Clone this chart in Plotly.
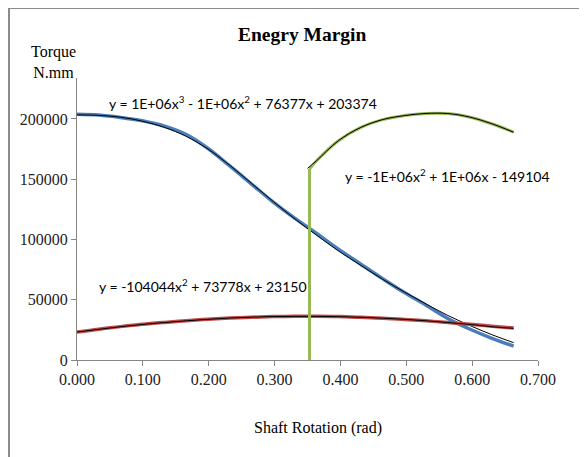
import plotly.graph_objects as go

# ---- data ----
x_pts = [0.000, 0.033, 0.066, 0.099, 0.133, 0.166, 0.199, 0.232, 0.265, 0.298,
         0.331, 0.364, 0.397, 0.431, 0.464, 0.497, 0.530, 0.563, 0.597, 0.630, 0.663]
blue_torque = [204000, 203300, 201300, 198500, 194000, 187000, 175500, 161000, 146000, 131000,
               117500, 105000, 92000, 79500, 67500, 56000, 45500, 34500, 25500, 18000, 11500]
blue_trend = [203400, 203000, 201500, 198200, 193000, 185500, 175000, 161500, 146500, 131500,
              117000, 103500, 90500, 78500, 67000, 56500, 46500, 37000, 28500, 21000, 14400]
red_torque = [23200, 25600, 27700, 29600, 31200, 32600, 33800, 34800, 35500, 36000,
              36200, 36200, 36000, 35400, 34700, 33700, 32500, 31100, 29600, 28100, 26600]
red_trend = [23150, 25450, 27600, 29450, 31100, 32550, 33750, 34800, 35550, 36050,
             36200, 36200, 35950, 35450, 34700, 33750, 32550, 31100, 29500, 27600, 26300]

green_x = [0.353, 0.353, 0.364, 0.397, 0.431, 0.464, 0.497, 0.530, 0.563, 0.597, 0.630, 0.663]
green_torque = [0, 158500, 165500, 182000, 193000, 199500, 202800, 204600, 204500, 201500, 196000, 189000]
green_trend_x = [0.350, 0.364, 0.397, 0.431, 0.464, 0.497, 0.530, 0.563, 0.597, 0.630, 0.663]
green_trend = [159000, 165500, 182000, 193000, 199500, 202800, 204600, 204500, 201500, 196000, 189000]

x_ticks = [0.0, 0.1, 0.2, 0.3, 0.4, 0.5, 0.6, 0.7]
y_ticks = [0, 50000, 100000, 150000, 200000]

eq_blue = "y = 1E+06x<sup>3</sup> - 1E+06x<sup>2</sup> + 76377x + 203374"
eq_green = "y = -1E+06x<sup>2</sup> + 1E+06x - 149104"
eq_red = "y = -104044x<sup>2</sup> + 73778x + 23150"

BLUE = "#4a7ebb"
RED = "#be4b48"
GREEN = "#98b954"
SERIF = "Liberation Serif"
SANS = "Lato"

fig = go.Figure()
fig.add_trace(go.Scatter(x=x_pts, y=blue_torque, mode="lines",
                         line=dict(color=BLUE, width=3.5, shape="spline")))
fig.add_trace(go.Scatter(x=x_pts, y=blue_trend, mode="lines",
                         line=dict(color="black", width=1, shape="spline")))
fig.add_trace(go.Scatter(x=x_pts, y=red_torque, mode="lines",
                         line=dict(color=RED, width=3.5, shape="spline")))
fig.add_trace(go.Scatter(x=x_pts, y=red_trend, mode="lines",
                         line=dict(color="black", width=1, shape="spline")))
# green series: vertical rise, then the curve
fig.add_trace(go.Scatter(x=green_x[:2], y=green_torque[:2], mode="lines",
                         line=dict(color=GREEN, width=3, shape="linear")))
fig.add_trace(go.Scatter(x=green_x[1:], y=green_torque[1:], mode="lines",
                         line=dict(color=GREEN, width=3, shape="spline")))
fig.add_trace(go.Scatter(x=green_trend_x, y=green_trend, mode="lines",
                         line=dict(color="black", width=1, shape="spline")))

axis_common = dict(showline=True, linecolor="#868686", linewidth=1, ticks="outside",
                   ticklen=5, tickcolor="#868686", showgrid=False, zeroline=False,
                   tickfont=dict(family=SERIF, size=16, color="#222222"))

fig.update_xaxes(range=[0, 0.7], tickvals=x_ticks, tickformat=".3f", **axis_common)
fig.update_yaxes(range=[0, 234000], tickvals=y_ticks, tickformat="d", **axis_common)

# page has an 8px body margin; figure coords = page coords - 8
PW = 461.0
PH = 282.0
L, T = 69, 70


def px(xp):
    return (xp - 8 - L) / PW


def py(yp):
    return (T + PH - (yp - 8)) / PH


annots = [
    dict(x=px(302), y=py(35), text="<b>Enegry Margin</b>", font=dict(family=SERIF, size=19.5, color="black"),
         xanchor="center", yanchor="middle"),
    dict(x=px(53), y=py(62), text="Torque<br>N.mm", font=dict(family=SERIF, size=16, color="black"),
         xanchor="center", yanchor="middle"),
    dict(x=px(318), y=py(428), text="Shaft Rotation (rad)", font=dict(family=SERIF, size=16, color="black"),
         xanchor="center", yanchor="middle"),
    dict(x=px(107), y=py(102), text=eq_blue, font=dict(family=SANS, size=14, color="black"),
         xanchor="left", yanchor="middle"),
    dict(x=px(343), y=py(175), text=eq_green, font=dict(family=SANS, size=14, color="black"),
         xanchor="left", yanchor="middle"),
    dict(x=px(97), y=py(285), text=eq_red, font=dict(family=SANS, size=14, color="black"),
         xanchor="left", yanchor="middle"),
]
for a in annots:
    a.update(xref="paper", yref="paper", showarrow=False)

fig.update_layout(
    width=579, height=449,
    margin=dict(l=L, r=49, t=T, b=97),
    paper_bgcolor="white", plot_bgcolor="white",
    showlegend=False,
    annotations=annots,
    shapes=[
        dict(type="line", xref="paper", yref="paper", x0=px(9), x1=px(9), y0=py(8), y1=py(470),
             line=dict(color="#8c8c8c", width=2)),
        dict(type="line", xref="paper", yref="paper", x0=px(9), x1=px(600), y0=py(8), y1=py(8),
             line=dict(color="#8c8c8c", width=2)),
    ],
)

fig.write_html("out.html")
